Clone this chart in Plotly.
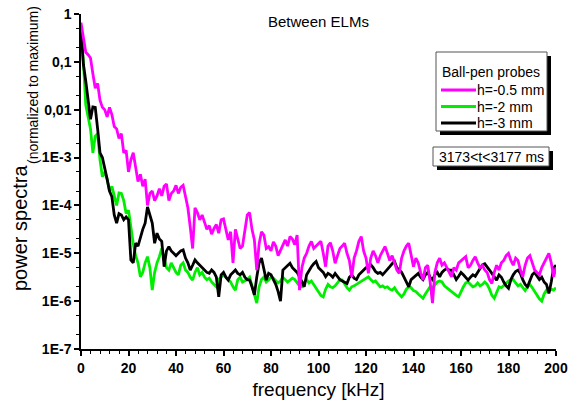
import numpy as np
import plotly.graph_objects as go

# frequency grid (kHz)
freq_khz = list(range(0, 201))

# log10 of normalized power spectra
log_h05 = [
 -0.18,-0.50,-0.80,-0.85,-0.92,-1.25,-1.55,-1.45,-1.80,-1.95,
 -2.00,-2.15,-1.95,-2.10,-2.35,-2.40,-2.60,-2.50,-2.90,-2.85,
 -3.30,-3.05,-2.90,-3.20,-3.50,-3.35,-3.60,-3.45,-4.00,-3.75,
 -3.70,-3.90,-3.80,-3.65,-3.80,-3.60,-3.55,-3.90,-3.75,-3.70,
 -3.58,-3.75,-3.62,-3.58,-3.85,-4.05,-4.45,-4.90,-4.05,-4.15,
 -4.30,-4.20,-4.35,-4.50,-4.42,-4.60,-4.48,-4.40,-4.58,-4.30,
 -4.28,-4.50,-4.72,-4.55,-5.20,-4.50,-4.70,-4.90,-4.85,-4.50,
 -4.20,-4.15,-4.50,-4.72,-5.35,-4.80,-4.55,-4.62,-4.90,-4.86,
 -4.95,-4.76,-4.85,-5.05,-4.93,-4.80,-4.72,-4.85,-4.65,-4.70,
 -4.82,-4.62,-5.77,-5.30,-5.10,-5.00,-4.85,-4.75,-4.90,-4.85,
 -4.80,-4.75,-5.00,-5.28,-4.85,-4.78,-4.95,-5.21,-5.05,-4.90,
 -4.85,-4.79,-5.00,-5.15,-5.49,-5.10,-4.95,-4.75,-4.65,-4.95,
 -5.10,-5.42,-5.10,-4.95,-5.05,-5.20,-5.05,-4.95,-4.86,-5.00,
 -5.15,-5.05,-5.20,-5.35,-5.42,-5.10,-4.95,-4.85,-4.79,-5.05,
 -5.28,-5.10,-5.20,-5.40,-5.56,-5.30,-5.25,-5.60,-6.04,-5.40,
 -5.20,-5.10,-5.25,-5.20,-5.30,-5.40,-5.49,-5.30,-5.35,-5.20,
 -5.15,-5.10,-5.07,-5.30,-5.25,-5.15,-5.07,-5.20,-5.30,-5.25,
 -5.35,-5.40,-5.55,-5.63,-5.40,-5.25,-5.35,-5.20,-5.15,-5.05,
 -5.00,-5.15,-5.25,-5.10,-5.15,-5.35,-5.49,-5.25,-5.10,-5.05,
 -5.20,-5.35,-5.40,-5.45,-5.30,-5.20,-5.10,-5.00,-5.20,-5.49,
 -5.30]

log_h2 = [
 -0.45,-1.00,-1.90,-2.15,-2.40,-2.90,-2.55,-2.50,-3.05,-3.40,
 -3.30,-3.45,-3.70,-3.60,-3.80,-4.00,-3.74,-3.75,-3.90,-4.17,
 -4.10,-4.50,-4.80,-5.05,-5.20,-5.49,-5.40,-5.20,-5.07,-5.30,
 -5.77,-5.40,-5.20,-5.07,-4.90,-5.10,-5.30,-5.35,-5.20,-5.30,
 -5.40,-5.45,-5.25,-5.20,-5.35,-5.40,-5.50,-5.56,-5.40,-5.30,
 -5.45,-5.40,-5.50,-5.55,-5.52,-5.60,-5.65,-5.70,-5.55,-5.50,
 -5.45,-5.50,-5.55,-5.60,-5.70,-5.77,-5.55,-5.50,-5.60,-5.58,
 -5.55,-5.50,-5.70,-5.84,-6.04,-5.70,-5.55,-5.50,-5.60,-5.56,
 -5.50,-5.52,-5.58,-5.62,-5.58,-5.50,-5.55,-5.60,-5.56,-5.52,
 -5.55,-5.62,-5.68,-5.70,-5.60,-5.55,-5.62,-5.58,-5.65,-5.72,
 -5.80,-5.88,-5.91,-5.75,-5.65,-5.70,-5.72,-5.68,-5.62,-5.55,
 -5.56,-5.65,-5.72,-5.77,-5.70,-5.68,-5.65,-5.62,-5.58,-5.56,
 -5.52,-5.49,-5.55,-5.60,-5.58,-5.65,-5.70,-5.68,-5.72,-5.70,
 -5.75,-5.77,-5.72,-5.80,-5.85,-5.91,-5.85,-5.75,-5.70,-5.72,
 -5.78,-5.80,-5.85,-5.90,-5.94,-5.85,-5.78,-5.70,-5.72,-5.65,
 -5.60,-5.58,-5.60,-5.68,-5.72,-5.78,-5.82,-5.85,-5.88,-5.91,
 -5.80,-5.70,-5.62,-5.60,-5.65,-5.70,-5.68,-5.62,-5.68,-5.65,
 -5.60,-5.65,-5.75,-5.88,-5.94,-5.80,-5.70,-5.72,-5.68,-5.62,
 -5.58,-5.56,-5.55,-5.62,-5.68,-5.65,-5.72,-5.78,-5.70,-5.65,
 -5.72,-5.80,-5.88,-5.95,-6.00,-5.85,-5.77,-5.80,-5.75,-5.77,
 -5.72]

log_h3 = [
 -0.30,-1.05,-1.40,-1.85,-2.20,-1.94,-1.95,-2.40,-2.90,-3.00,
 -3.20,-3.45,-3.70,-3.82,-4.20,-4.37,-4.17,-4.20,-4.30,-4.24,
 -4.30,-5.14,-5.20,-4.79,-4.85,-4.65,-4.50,-4.37,-4.03,-4.20,
 -4.37,-4.79,-4.58,-4.70,-4.75,-5.28,-4.95,-4.86,-4.95,-5.00,
 -5.05,-5.00,-4.95,-4.93,-5.10,-5.20,-5.35,-5.25,-5.14,-5.20,
 -5.25,-5.30,-5.35,-5.40,-5.42,-5.35,-5.40,-5.50,-5.91,-5.45,
 -5.40,-5.50,-5.56,-5.45,-5.40,-5.35,-5.42,-5.45,-5.40,-5.50,
 -5.55,-5.56,-5.70,-5.87,-5.50,-5.20,-5.10,-5.35,-5.56,-5.42,
 -5.45,-5.55,-5.65,-5.80,-6.00,-5.35,-5.30,-5.25,-5.21,-5.30,
 -5.35,-5.40,-5.49,-5.60,-5.70,-5.45,-5.35,-5.28,-5.22,-5.17,
 -5.30,-5.35,-5.40,-5.49,-5.42,-5.45,-5.50,-5.42,-5.48,-5.55,
 -5.58,-5.60,-5.63,-5.50,-5.45,-5.52,-5.55,-5.45,-5.40,-5.35,
 -5.30,-5.28,-5.24,-5.30,-5.38,-5.42,-5.40,-5.45,-5.40,-5.35,
 -5.28,-5.22,-5.17,-5.30,-5.35,-5.40,-5.50,-5.60,-5.70,-5.55,
 -5.50,-5.45,-5.42,-5.50,-5.55,-5.45,-5.40,-5.50,-5.55,-5.45,
 -5.40,-5.49,-5.40,-5.35,-5.32,-5.35,-5.35,-5.45,-5.55,-5.48,
 -5.40,-5.45,-5.50,-5.56,-5.50,-5.45,-5.48,-5.40,-5.30,-5.24,
 -5.22,-5.30,-5.35,-5.42,-5.50,-5.56,-5.45,-5.50,-5.60,-5.68,
 -5.73,-5.55,-5.45,-5.38,-5.35,-5.42,-5.55,-5.65,-5.70,-5.55,
 -5.45,-5.40,-5.48,-5.55,-5.50,-5.60,-5.65,-5.84,-5.60,-5.30,
 -5.25]

series_names = ["h=-0.5 mm", "h=-2 mm", "h=-3 mm"]
series_colors = ["#FF00FF", "#00EE00", "#000000"]

y_tickvals = [1, 0.1, 0.01, 1e-3, 1e-4, 1e-5, 1e-6, 1e-7]
y_ticktext = ["1", "0,1", "0,01", "1E-3", "1E-4", "1E-5", "1E-6", "1E-7"]
x_tickvals = list(range(0, 201, 20))

W, H = 569, 412
L, R, T, B = 81, 556, 14, 349


def px(x):
    return (x - L) / (R - L)


def py(y):
    return (B - y) / (B - T)


fig = go.Figure()
for idx, logs in zip([1, 2, 0], [log_h2, log_h3, log_h05]):
    fig.add_trace(go.Scatter(
        x=freq_khz, y=np.power(10.0, np.array(logs)),
        mode="lines", name=series_names[idx],
        line=dict(color=series_colors[idx], width=2.8),
        showlegend=False))

font_fam = "Liberation Sans, Arial, sans-serif"

fig.update_layout(
    width=W, height=H,
    margin=dict(l=L, r=W - R, t=T, b=H - B, autoexpand=False),
    paper_bgcolor="white", plot_bgcolor="white",
    font=dict(family=font_fam, color="black"),
    xaxis=dict(
        range=[0, 200], showgrid=False, zeroline=False, automargin=False,
        showline=True, linecolor="black", linewidth=1.5,
        tickvals=x_tickvals, ticks="outside", ticklen=5, tickwidth=1.5,
        tickcolor="black",
        tickfont=dict(size=14, family=font_fam, weight="bold"),
        minor=dict(dtick=4, ticks="outside", ticklen=3, tickwidth=1, tickcolor="black"),
        title=dict(text="frequency [kHz]", font=dict(size=19), standoff=8),
    ),
    yaxis=dict(
        type="log", range=[-7, 0], showgrid=False, zeroline=False, automargin=False,
        showline=True, linecolor="black", linewidth=1.5,
        tickvals=y_tickvals, ticktext=y_ticktext,
        ticks="outside", ticklen=5, tickwidth=1.5, tickcolor="black",
        tickfont=dict(size=14, family=font_fam, weight="bold"),
        minor=dict(ticks="outside", ticklen=3, tickwidth=1, tickcolor="black"),
    ),
)

ann = []
ann.append(dict(x=px(318), y=py(21), xref="paper", yref="paper", text="Between ELMs",
                showarrow=False, font=dict(size=15), xanchor="center", yanchor="middle"))
ann.append(dict(x=px(20), y=py(228), xref="paper", yref="paper", text="power spectra",
                showarrow=False, font=dict(size=20), textangle=-90,
                xanchor="center", yanchor="middle"))
ann.append(dict(x=px(33), y=py(85), xref="paper", yref="paper", text="(normalized to maximum)",
                showarrow=False, font=dict(size=14), textangle=-90,
                xanchor="center", yanchor="middle"))

shapes = []
# legend box with shadow
shapes.append(dict(type="rect", xref="paper", yref="paper",
                   x0=px(440), x1=px(551), y0=py(56), y1=py(135),
                   fillcolor="black", line=dict(width=0), layer="above"))
shapes.append(dict(type="rect", xref="paper", yref="paper",
                   x0=px(436), x1=px(547), y0=py(52), y1=py(131),
                   fillcolor="white", line=dict(color="#555555", width=1), layer="above"))
ann.append(dict(x=px(491), y=py(72), xref="paper", yref="paper", text="Ball-pen probes",
                showarrow=False, font=dict(size=14), xanchor="center", yanchor="middle"))
for i, yy in zip([0, 1, 2], [90, 106.5, 123]):
    shapes.append(dict(type="line", xref="paper", yref="paper",
                       x0=px(441), x1=px(476), y0=py(yy), y1=py(yy),
                       line=dict(color=series_colors[i], width=2.8), layer="above"))
    ann.append(dict(x=px(475), y=py(yy), xref="paper", yref="paper", text=series_names[i],
                    showarrow=False, font=dict(size=14), xanchor="left", yanchor="middle"))
# time window box
shapes.append(dict(type="rect", xref="paper", yref="paper",
                   x0=px(437), x1=px(553), y0=py(151), y1=py(170),
                   fillcolor="black", line=dict(width=0), layer="above"))
shapes.append(dict(type="rect", xref="paper", yref="paper",
                   x0=px(433), x1=px(549), y0=py(147), y1=py(166),
                   fillcolor="white", line=dict(color="#555555", width=1), layer="above"))
ann.append(dict(x=px(491), y=py(157), xref="paper", yref="paper", text="3173&lt;t&lt;3177 ms",
                showarrow=False, font=dict(size=14), xanchor="center", yanchor="middle"))

fig.update_layout(annotations=ann, shapes=shapes)
fig.write_html("out.html")
